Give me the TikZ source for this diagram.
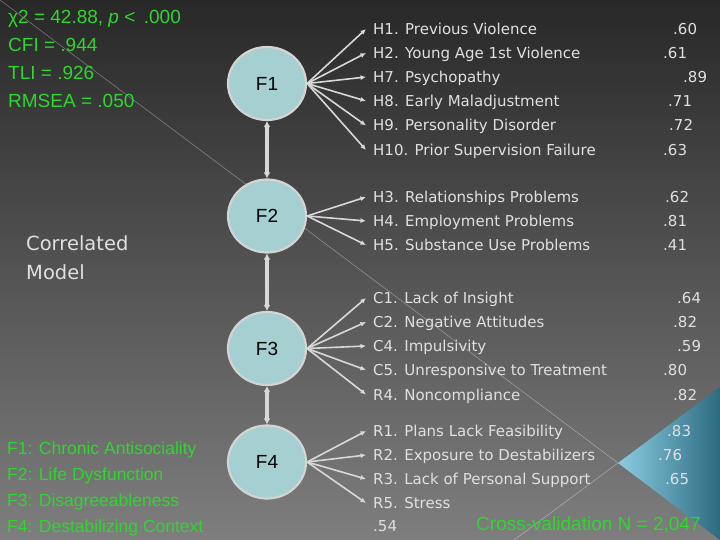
\documentclass[tikz,border=0pt]{standalone}
\usepackage{fontspec}
\setmainfont{Liberation Sans}
\newfontfamily\itemfont{DejaVu Sans}
\usetikzlibrary{shapes.geometric,arrows.meta}
\definecolor{bgtop}{HTML}{282828}
\definecolor{bgmid}{HTML}{3D3D3D}
\definecolor{bgbot}{HTML}{7E7E7E}
\definecolor{statgreen}{HTML}{2ED62E}
\definecolor{itemgray}{HTML}{E0E0E0}
\definecolor{arrgray}{HTML}{D8D8D8}
\definecolor{circfill}{HTML}{A6CFD2}
\definecolor{circedge}{HTML}{D4D4D4}
\definecolor{trilight}{HTML}{8CCDE2}
\definecolor{tridark}{HTML}{2C6A80}
\begin{document}
\begin{tikzpicture}[x=1pt,y=-1pt,
  fnode/.style={ellipse, draw=circedge, line width=2.2pt, fill=circfill, minimum width=78pt, minimum height=73pt, inner sep=0pt, font=\fontsize{19}{22}\selectfont, text=black},
  itm/.style={anchor=base west, inner xsep=7pt, inner ysep=0pt, text height=11pt, text depth=0pt, font=\itemfont\fontsize{15}{18}\selectfont, text=itemgray},
  num/.style={anchor=base west, inner sep=0pt, font=\itemfont\fontsize{15}{18}\selectfont, text=itemgray},
  stat/.style={anchor=base west, inner sep=0pt, font=\fontsize{19}{22}\selectfont, text=statgreen},
  legend/.style={anchor=base west, inner sep=0pt, font=\fontsize{17.5}{20}\selectfont, text=statgreen},
  arr/.style={draw=arrgray, line width=1.6pt, -{Latex[length=5.5pt,width=5pt]}},
  varr/.style={draw=arrgray, line width=3.2pt, {Latex[length=6pt,width=7pt]}-{Latex[length=6pt,width=7pt]}},
  deco/.style={draw=white, draw opacity=0.35, line width=0.6pt}
]
\useasboundingbox (0,0) rectangle (720,540);
\shade[top color=bgtop, middle color=bgmid, bottom color=bgbot] (0,0) rectangle (720,540);
% decorative blue triangle and thin lines
\coordinate (tv) at (618,463);
\coordinate (tu) at (720,387);
\coordinate (tl) at (720,540);
\coordinate (lo) at (0,0);
\coordinate (le) at (514,540);
\shade[left color=trilight, right color=tridark] (tv) -- (tu) -- (tl) -- cycle;
\draw[deco] (lo) -- (tv) -- (le);

% fit statistics
\node[stat] (s1) at (8,23.5) {χ2 = 42.88, \textit{p} <\, .000};
\node[stat] (s2) at (8,51.5) {CFI = .944};
\node[stat] (s3) at (8,79.5) {TLI = .926};
\node[stat] (s4) at (8,107.5) {RMSEA = .050};

% model label
\node[anchor=base west, inner sep=0pt, font=\itemfont\fontsize{19.5}{23}\selectfont, text=itemgray] (cm1) at (26,250) {Correlated};
\node[anchor=base west, inner sep=0pt, font=\itemfont\fontsize{19.5}{23}\selectfont, text=itemgray] (cm2) at (26,279.5) {Model};

% legend
\node[legend] (l1) at (7,454) {F1: Chronic Antisociality};
\node[legend] (l2) at (7,480) {F2: Life Dysfunction};
\node[legend] (l3) at (7,506) {F3: Disagreeableness};
\node[legend] (l4) at (7,532) {F4: Destabilizing Context};

% factors
\node[fnode] (f1) at (267,83.5) {F1};
\node[fnode] (f2) at (267,216) {F2};
\node[fnode] (f3) at (267,348.5) {F3};
\node[fnode] (f4) at (267,462) {F4};

\draw[varr] (f1.south) -- (f2.north);
\draw[varr] (f2.south) -- (f3.north);
\draw[varr] (f3.south) -- (f4.north);

% F1 items
\node[itm] (h1) at (366,34.5) {H1. Previous Violence};
\node[itm] (h2) at (366,58.5) {H2. Young Age 1st Violence};
\node[itm] (h7) at (366,82.5) {H7. Psychopathy};
\node[itm] (h8) at (366,106.5) {H8. Early Maladjustment};
\node[itm] (h9) at (366,131) {H9. Personality Disorder};
\node[itm] (h10) at (366,155.5) {H10. Prior Supervision Failure};
\foreach \n in {h1,h2,h7,h8,h9,h10} \draw[arr] (f1.east) -- (\n.west);
\node[num] (n1) at (673,34.5) {.60};
\node[num] (n2) at (663,58.5) {.61};
\node[num] (n7) at (683,82.5) {.89};
\node[num] (n8) at (668,106.5) {.71};
\node[num] (n9) at (669,131) {.72};
\node[num] (n10) at (663,155.5) {.63};

% F2 items
\node[itm] (h3) at (366,202.5) {H3. Relationships Problems};
\node[itm] (h4) at (366,226.5) {H4. Employment Problems};
\node[itm] (h5) at (366,250.5) {H5. Substance Use Problems};
\foreach \n in {h3,h4,h5} \draw[arr] (f2.east) -- (\n.west);
\node[num] (n3) at (665,202.5) {.62};
\node[num] (n4) at (663,226.5) {.81};
\node[num] (n5) at (663,250.5) {.41};

% F3 items
\node[itm] (c1) at (366,303.5) {C1. Lack of Insight};
\node[itm] (c2) at (366,327.5) {C2. Negative Attitudes};
\node[itm] (c4) at (366,351.5) {C4. Impulsivity};
\node[itm] (c5) at (366,375.5) {C5. Unresponsive to Treatment};
\node[itm] (r4) at (366,400) {R4. Noncompliance};
\foreach \n in {c1,c2,c4,c5,r4} \draw[arr] (f3.east) -- (\n.west);
\node[num] (nc1) at (677,303.5) {.64};
\node[num] (nc2) at (673,327.5) {.82};
\node[num] (nc4) at (677,351.5) {.59};
\node[num] (nc5) at (663,375.5) {.80};
\node[num] (nr4) at (673,400) {.82};

% F4 items
\node[itm] (r1) at (366,436.5) {R1. Plans Lack Feasibility};
\node[itm] (r2) at (366,460.5) {R2. Exposure to Destabilizers};
\node[itm] (r3) at (366,484.5) {R3. Lack of Personal Support};
\node[itm] (r5) at (366,508.5) {R5. Stress};
\foreach \n in {r1,r2,r3,r5} \draw[arr] (f4.east) -- (\n.west);
\node[num] (nr1) at (667,436.5) {.83};
\node[num] (nr2) at (658,460.5) {.76};
\node[num] (nr3) at (665,484.5) {.65};
\node[num] (nr5) at (373,531.5) {.54};

% sample
\node[stat] (cv) at (476,530) {Cross-validation N = 2,047};
\end{tikzpicture}
\end{document}
